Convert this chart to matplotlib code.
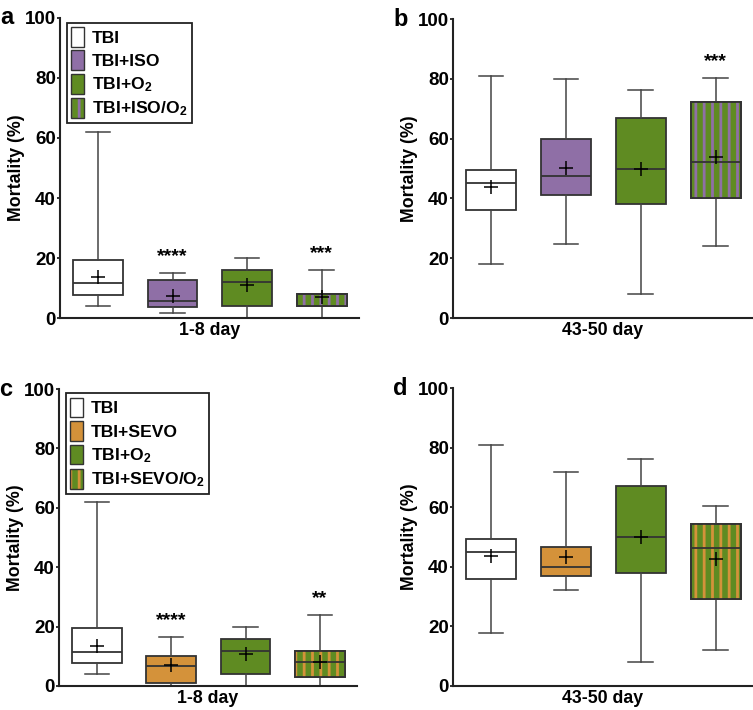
import matplotlib
matplotlib.use("Agg")
import matplotlib.pyplot as plt
from matplotlib.patches import Patch, PathPatch
from matplotlib.legend_handler import HandlerTuple

plt.rcParams['font.family'] = ['Liberation Sans', 'DejaVu Sans']
plt.rcParams['font.weight'] = 'bold'
plt.rcParams['mathtext.fontset'] = 'custom'
plt.rcParams['mathtext.rm'] = 'Liberation Sans:bold'
plt.rcParams['mathtext.bf'] = 'Liberation Sans:bold'
plt.rcParams['mathtext.it'] = 'Liberation Sans:bold:italic'
plt.rcParams['hatch.linewidth'] = 2.0

WHITE = '#ffffff'
PURPLE = '#8f6fa6'
GREEN = '#5f8b22'
ORANGE = '#d4923a'
EDGE = '#333333'

# group labels
labels_iso = ['TBI', 'TBI+ISO', 'TBI+O$_2$', 'TBI+ISO/O$_2$']
labels_sevo = ['TBI', 'TBI+SEVO', 'TBI+O$_2$', 'TBI+SEVO/O$_2$']

# box stats per group: whisker low, Q1, median, Q3, whisker high, mean
# panel a: ISO, 1-8 day
a_low = [3.9, 1.8, 0.0, 0.0]
a_q1 = [7.7, 3.7, 3.9, 3.9]
a_med = [11.6, 5.6, 11.9, 8.0]
a_q3 = [19.4, 12.7, 15.9, 8.0]
a_high = [62.0, 15.0, 19.9, 16.0]
a_mean = [13.6, 7.5, 10.9, 7.0]
a_stars = ['', '****', '', '***']

# panel b: ISO, 43-50 day
b_low = [17.9, 24.9, 7.9, 24.0]
b_q1 = [36.0, 41.1, 38.0, 40.0]
b_med = [45.0, 47.4, 49.9, 52.1]
b_q3 = [49.4, 59.8, 67.0, 72.2]
b_high = [81.0, 79.8, 76.1, 80.3]
b_mean = [43.7, 50.3, 49.9, 54.0]
b_stars = ['', '', '', '***']

# panel c: SEVO, 1-8 day
c_low = [3.9, 0.0, 0.0, 0.0]
c_q1 = [7.7, 0.9, 3.9, 2.9]
c_med = [11.6, 6.7, 11.9, 8.0]
c_q3 = [19.4, 10.0, 15.9, 11.9]
c_high = [62.0, 16.6, 19.9, 23.9]
c_mean = [13.6, 7.0, 10.9, 8.0]
c_stars = ['', '****', '', '**']

# panel d: SEVO, 43-50 day
d_low = [17.9, 32.1, 7.9, 12.1]
d_q1 = [36.0, 37.0, 38.0, 29.3]
d_med = [45.0, 40.1, 49.9, 46.4]
d_q3 = [49.4, 46.8, 67.0, 54.4]
d_high = [81.0, 71.9, 76.1, 60.5]
d_mean = [43.7, 43.2, 49.9, 42.6]
d_stars = ['', '', '', '']


def draw_panel(ax, low, q1, med, q3, high, mean, stars, drug_color, xlabel, letter, labels=None):
    stats = [dict(whislo=lo, q1=a, med=m, q3=b, whishi=hi, mean=mu)
             for lo, a, m, b, hi, mu in zip(low, q1, med, q3, high, mean)]
    pos = [1, 2, 3, 4]
    art = ax.bxp(stats, positions=pos, widths=0.667, capwidths=0.33,
                 patch_artist=True, showmeans=True, showfliers=False,
                 boxprops=dict(edgecolor=EDGE, linewidth=1.3),
                 medianprops=dict(color=EDGE, linewidth=1.3),
                 whiskerprops=dict(color='#444444', linewidth=1.1),
                 capprops=dict(color='#444444', linewidth=1.1),
                 meanprops=dict(marker='+', markeredgecolor='black',
                                markersize=10, markeredgewidth=1.1))
    fills = [WHITE, drug_color, GREEN, GREEN]
    for box, c in zip(art['boxes'], fills):
        box.set_facecolor(c)
    # vertical stripes on the combined group
    last = art['boxes'][-1]
    ax.add_patch(PathPatch(last.get_path(), facecolor='none', edgecolor=drug_color,
                           hatch='||', lw=0, zorder=2.02))
    ax.add_patch(PathPatch(last.get_path(), facecolor='none', edgecolor=EDGE,
                           lw=1.3, zorder=2.04))

    for x, hi, s in zip(pos, high, stars):
        if s:
            ax.text(x, hi + 4, s, ha='center', va='baseline', fontsize=14, fontweight='bold')

    ax.set_xlim(0.49, 4.5)
    ax.set_ylim(0, 100)
    ax.set_yticks([0, 20, 40, 60, 80, 100])
    ax.set_xticks([])
    ax.tick_params(axis='y', length=2.5, width=1.3, labelsize=13.5, pad=0.5, color='#222222')
    for t in ax.get_yticklabels():
        t.set_fontweight('bold')
    ax.spines['top'].set_visible(False)
    ax.spines['right'].set_visible(False)
    for sp in ('left', 'bottom'):
        ax.spines[sp].set_linewidth(1.5)
        ax.spines[sp].set_color('#222222')
    ax.set_ylabel('Mortality (%)', fontsize=12.8, fontweight='bold', labelpad=0)
    ax.set_xlabel(xlabel, fontsize=12.8, fontweight='bold', labelpad=3)
    ax.text(-0.2, 1.0, letter, transform=ax.transAxes, fontsize=17, fontweight='bold',
            ha='left', va='center')

    if labels:
        handles = [Patch(facecolor=WHITE, edgecolor=EDGE, lw=1.0),
                   Patch(facecolor=drug_color, edgecolor=EDGE, lw=1.0),
                   Patch(facecolor=GREEN, edgecolor=EDGE, lw=1.0),
                   (Patch(facecolor=GREEN, edgecolor='none'),
                    Patch(facecolor='none', edgecolor=drug_color, hatch='||', lw=0),
                    Patch(facecolor='none', edgecolor=EDGE, lw=1.0))]
        leg = ax.legend(handles, labels, loc='upper left', bbox_to_anchor=(0.022, 0.985),
                        fontsize=12.6, handlelength=0.75, handleheight=1.35,
                        handletextpad=0.45, labelspacing=0.22, borderpad=0.25,
                        borderaxespad=0, fancybox=False, framealpha=1,
                        edgecolor='#222222',
                        handler_map={tuple: HandlerTuple(ndivide=1, pad=0)})
        leg.get_frame().set_linewidth(1.3)
        for t in leg.get_texts():
            t.set_fontweight('bold')


fig = plt.figure(figsize=(7.53, 7.10), dpi=100)
ax_a = fig.add_axes([60 / 753, 1 - 318 / 710, 299 / 753, 300 / 710])
ax_b = fig.add_axes([453 / 753, 1 - 318 / 710, 300 / 753, 299 / 710])
ax_c = fig.add_axes([59 / 753, 1 - 686 / 710, 298 / 753, 297 / 710])
ax_d = fig.add_axes([453 / 753, 1 - 686 / 710, 300 / 753, 298 / 710])

draw_panel(ax_a, a_low, a_q1, a_med, a_q3, a_high, a_mean, a_stars, PURPLE, '1-8 day', 'a', labels_iso)
draw_panel(ax_b, b_low, b_q1, b_med, b_q3, b_high, b_mean, b_stars, PURPLE, '43-50 day', 'b')
draw_panel(ax_c, c_low, c_q1, c_med, c_q3, c_high, c_mean, c_stars, ORANGE, '1-8 day', 'c', labels_sevo)
draw_panel(ax_d, d_low, d_q1, d_med, d_q3, d_high, d_mean, d_stars, ORANGE, '43-50 day', 'd')

fig.savefig('out.png', dpi=100)
plt.close(fig)
